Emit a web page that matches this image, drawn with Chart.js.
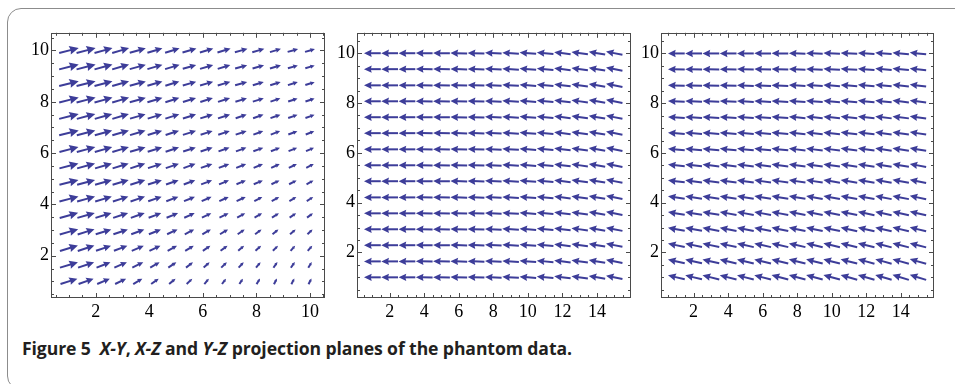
<!DOCTYPE html>
<html>
<head>
<meta charset="utf-8">
<script src="https://cdn.jsdelivr.net/npm/chart.js@4.4.0/dist/chart.umd.min.js"></script>
<style>
html, body { margin: 0; padding: 0; background: #fff; width: 955px; height: 384px; overflow: hidden; }
#box { position: absolute; left: 7px; top: 8px; width: 975px; height: 382px; border: 1.5px solid #8c8c8c; border-radius: 14px; box-sizing: border-box; }
.plot { position: absolute; top: 20px; }
#caption { position: absolute; left: 22px; top: 336px; font: bold 17.6px "Open Sans", sans-serif; letter-spacing: -0.1px; color: #231f20; white-space: nowrap; }
</style>
</head>
<body>
<div id="box"></div>
<div class="plot" style="left:15px"><canvas id="xy" width="314" height="304"></canvas></div>
<div class="plot" style="left:321px"><canvas id="xz" width="314" height="304"></canvas></div>
<div class="plot" style="left:625px"><canvas id="yz" width="313" height="304"></canvas></div>
<div id="caption">Figure 5&nbsp;&nbsp;<i>X-Y</i>, <i>X-Z</i> and <i>Y-Z</i> projection planes of the phantom data.</div>
<script>
const ARROW = 'rgb(61,61,153)';

// grid points
const xyCols = [1, 1.64, 2.29, 2.93, 3.57, 4.21, 4.86, 5.5, 6.14, 6.79, 7.43, 8.07, 8.71, 9.36, 10];
const gridRows = [10, 9.36, 8.71, 8.07, 7.43, 6.79, 6.14, 5.5, 4.86, 4.21, 3.57, 2.93, 2.29, 1.64, 1]; // top to bottom
const zCols = [1, 2, 3, 4, 5, 6, 7, 8, 9, 10, 11, 12, 13, 14, 15];

// tick labels
const xyTicksX = [2, 4, 6, 8, 10];
const zTicksX = [2, 4, 6, 8, 10, 12, 14];
const ticksY = [2, 4, 6, 8, 10];

// X-Y plane, horizontal component (rows top to bottom)
const xyU = [
  [.73, .71, .67, .63, .60, .56, .54, .52, .50, .49, .47, .45, .41, .39, .37],
  [.73, .71, .67, .63, .60, .56, .54, .50, .49, .47, .45, .43, .41, .37, .35],
  [.73, .71, .67, .63, .60, .56, .52, .50, .49, .47, .45, .41, .39, .37, .35],
  [.73, .71, .67, .63, .60, .56, .52, .49, .47, .45, .43, .41, .37, .35, .34],
  [.73, .69, .65, .62, .58, .54, .52, .49, .47, .45, .41, .39, .37, .35, .34],
  [.73, .69, .65, .62, .58, .54, .50, .49, .45, .43, .41, .37, .35, .34, .32],
  [.71, .69, .65, .62, .58, .54, .50, .47, .45, .41, .39, .37, .34, .32, .30],
  [.71, .67, .63, .60, .56, .52, .49, .45, .43, .39, .37, .35, .32, .30, .28],
  [.71, .67, .63, .60, .56, .52, .47, .43, .41, .37, .35, .34, .30, .28, .26],
  [.71, .67, .62, .58, .54, .50, .45, .41, .37, .35, .34, .30, .28, .26, .24],
  [.69, .65, .60, .56, .52, .47, .43, .39, .35, .34, .30, .28, .26, .24, .22],
  [.69, .63, .58, .54, .49, .45, .39, .35, .32, .30, .26, .24, .22, .21, .19],
  [.67, .62, .56, .50, .45, .41, .35, .32, .28, .26, .22, .21, .19, .17, .17],
  [.67, .60, .52, .47, .41, .35, .30, .26, .22, .21, .19, .17, .15, .15, .13],
  [.63, .56, .47, .41, .34, .28, .24, .21, .17, .15, .13, .13, .11, .11, .11]
];
// X-Y plane, vertical component
const xyV = [
  [.19, .19, .19, .19, .17, .17, .17, .15, .15, .15, .13, .13, .13, .11, .11],
  [.19, .19, .19, .19, .17, .17, .17, .15, .15, .15, .13, .13, .13, .11, .11],
  [.19, .19, .19, .19, .17, .17, .17, .15, .15, .15, .13, .13, .13, .12, .11],
  [.19, .19, .19, .19, .17, .17, .17, .15, .15, .15, .14, .13, .13, .12, .12],
  [.19, .19, .19, .19, .17, .17, .17, .16, .15, .15, .14, .14, .13, .12, .12],
  [.19, .19, .19, .19, .18, .17, .17, .16, .15, .15, .14, .14, .14, .13, .13],
  [.19, .19, .19, .19, .18, .17, .17, .16, .16, .15, .15, .14, .14, .13, .13],
  [.19, .19, .19, .19, .19, .17, .17, .17, .15, .15, .15, .15, .15, .15, .15],
  [.19, .19, .19, .19, .19, .17, .17, .17, .16, .16, .15, .15, .15, .15, .15],
  [.19, .19, .19, .19, .19, .18, .18, .17, .17, .16, .16, .16, .16, .16, .16],
  [.20, .19, .19, .19, .19, .18, .18, .18, .17, .17, .17, .17, .17, .17, .17],
  [.21, .21, .19, .19, .19, .19, .19, .19, .19, .19, .19, .19, .19, .19, .19],
  [.21, .21, .20, .20, .20, .20, .20, .20, .20, .20, .20, .20, .20, .20, .20],
  [.21, .21, .21, .21, .21, .21, .21, .21, .21, .21, .21, .21, .22, .22, .22],
  [.21, .21, .21, .21, .21, .21, .21, .21, .21, .21, .21, .22, .23, .23, .23]
];

// X-Z plane: every row looks the same, values per column
const xzU = [-.97, -.97, -.97, -.97, -.97, -.97, -.97, -.96, -.96, -.96, -.96, -.95, -.95, -.95, -.95];
const xzV = [0, 0, 0, .01, .01, .02, .02, .03, .04, .05, .06, .08, .09, .11, .13];

// Y-Z plane
const yzU = [-.97, -.97, -.97, -.97, -.97, -.97, -.97, -.96, -.96, -.96, -.96, -.96, -.95, -.95, -.95];
const yzV = [
  [0, 0, 0, 0, 0, .01, .01, .02, .02, .03, .03, .04, .05, .06, .07],
  [.01, .01, .01, .01, .02, .02, .02, .03, .03, .04, .04, .05, .06, .06, .07],
  [.02, .02, .02, .02, .03, .03, .03, .04, .04, .05, .05, .06, .06, .07, .08],
  [.03, .03, .03, .03, .04, .04, .04, .05, .05, .06, .06, .07, .07, .08, .08],
  [.04, .04, .04, .04, .05, .05, .05, .06, .06, .06, .07, .07, .08, .08, .09],
  [.05, .05, .05, .05, .06, .06, .06, .07, .07, .07, .08, .08, .09, .09, .10],
  [.06, .06, .06, .07, .07, .07, .07, .08, .08, .08, .09, .09, .10, .10, .11],
  [.07, .07, .08, .08, .08, .08, .09, .09, .09, .09, .10, .10, .11, .11, .12],
  [.08, .09, .09, .09, .09, .10, .10, .10, .10, .11, .11, .11, .12, .12, .13],
  [.10, .10, .10, .10, .11, .11, .11, .11, .12, .12, .12, .12, .13, .13, .14],
  [.11, .11, .11, .12, .12, .12, .12, .13, .13, .13, .13, .14, .14, .14, .15],
  [.12, .12, .13, .13, .13, .13, .14, .14, .14, .14, .15, .15, .15, .16, .16],
  [.14, .14, .14, .14, .15, .15, .15, .15, .16, .16, .16, .16, .17, .17, .17],
  [.15, .15, .15, .16, .16, .16, .16, .17, .17, .17, .17, .18, .18, .18, .19],
  [.16, .16, .17, .17, .17, .17, .18, .18, .18, .18, .19, .19, .19, .20, .20]
];

function pick(a, r, c) { return Array.isArray(a[0]) ? a[r][c] : a[c]; }

function drawArrow(ctx, x0, y0, x1, y1) {
  const dx = x1 - x0, dy = y1 - y0, len = Math.hypot(dx, dy);
  if (len < 0.5) return;
  const ux = dx / len, uy = dy / len;
  const hl = len * 0.46, hw = len * 0.22;
  const bx = x1 - ux * hl, by = y1 - uy * hl;
  ctx.strokeStyle = ARROW;
  ctx.fillStyle = ARROW;
  ctx.lineWidth = 2;
  ctx.beginPath();
  ctx.moveTo(x0, y0);
  ctx.lineTo(bx + ux * hl * 0.3, by + uy * hl * 0.3);
  ctx.stroke();
  ctx.beginPath();
  ctx.moveTo(x1, y1);
  ctx.lineTo(bx - uy * hw, by + ux * hw);
  ctx.lineTo(bx + ux * hl * 0.12, by + uy * hl * 0.12);
  ctx.lineTo(bx + uy * hw, by - ux * hw);
  ctx.closePath();
  ctx.fill();
}

// arrows centred on their grid point, tip = point + v/2
const arrowPlugin = {
  id: 'arrows',
  afterDatasetsDraw(chart) {
    const { ctx, scales: { x, y } } = chart;
    ctx.save();
    chart.data.datasets.forEach(ds => {
      ds.data.forEach(p => {
        drawArrow(ctx,
          x.getPixelForValue(p.x - p.u / 2), y.getPixelForValue(p.y - p.v / 2),
          x.getPixelForValue(p.x + p.u / 2), y.getPixelForValue(p.y + p.v / 2));
      });
    });
    ctx.restore();
  }
};

// frame with inward ticks on all four sides, minor every 0.5
const framePlugin = {
  id: 'frame',
  afterDraw(chart) {
    const { ctx, chartArea: a, scales: { x, y } } = chart;
    ctx.save();
    ctx.strokeStyle = '#4a4a4a';
    ctx.lineWidth = 1;
    ctx.strokeRect(Math.round(a.left) + 0.5, Math.round(a.top) + 0.5,
      Math.round(a.right - a.left) - 1, Math.round(a.bottom - a.top) - 1);
    ctx.beginPath();
    for (let v = Math.ceil(x.min * 2) / 2; v <= x.max; v += 0.5) {
      const px = Math.round(x.getPixelForValue(v)) + 0.5;
      const l = v % 2 === 0 ? 5 : 3;
      ctx.moveTo(px, a.bottom); ctx.lineTo(px, a.bottom - l);
      ctx.moveTo(px, a.top); ctx.lineTo(px, a.top + l);
    }
    for (let v = Math.ceil(y.min * 2) / 2; v <= y.max; v += 0.5) {
      const py = Math.round(y.getPixelForValue(v)) + 0.5;
      const l = v % 2 === 0 ? 5 : 3;
      ctx.moveTo(a.left, py); ctx.lineTo(a.left + l, py);
      ctx.moveTo(a.right, py); ctx.lineTo(a.right - l, py);
    }
    ctx.stroke();
    ctx.restore();
  }
};

const tickFont = { family: '"Liberation Serif", "DejaVu Serif", serif', size: 18 };

function makePlot(id, cols, U, V, xMin, xMax, yMin, yMax, xTicks) {
  const pts = [];
  gridRows.forEach((ry, r) => {
    cols.forEach((cx, c) => {
      pts.push({ x: cx, y: ry, u: pick(U, r, c), v: pick(V, r, c) });
    });
  });
  return new Chart(document.getElementById(id), {
    type: 'scatter',
    data: { datasets: [{ data: pts, pointRadius: 0, pointHoverRadius: 0 }] },
    plugins: [arrowPlugin, framePlugin],
    options: {
      responsive: false,
      animation: false,
      devicePixelRatio: 1,
      layout: { padding: { top: 4, right: 4, left: 0, bottom: 0 } },
      plugins: { legend: { display: false }, tooltip: { enabled: false } },
      events: [],
      scales: {
        x: {
          type: 'linear', min: xMin, max: xMax,
          grid: { display: false, drawTicks: false },
          border: { display: false },
          ticks: {
            stepSize: 2, includeBounds: false, padding: 3, color: '#000', font: tickFont, maxRotation: 0,
            callback: v => xTicks.includes(v) ? String(v) : ''
          },
          afterFit: s => { s.height = 26; }
        },
        y: {
          type: 'linear', min: yMin, max: yMax,
          grid: { display: false, drawTicks: false },
          border: { display: false },
          ticks: {
            stepSize: 2, includeBounds: false, padding: 2, color: '#000', font: tickFont,
            callback: v => ticksY.includes(v) ? String(v) : ''
          },
          afterFit: s => { s.width = 36; }
        }
      }
    }
  });
}

makePlot('xy', xyCols, xyU, xyV, 0.33, 10.56, 0.35, 10.69, xyTicksX);
makePlot('xz', zCols, xzU, xzV, 0.11, 15.97, 0.17, 10.82, zTicksX);
makePlot('yz', zCols, yzU, yzV, 0.11, 15.93, 0.17, 10.83, zTicksX);
</script>
</body>
</html>
